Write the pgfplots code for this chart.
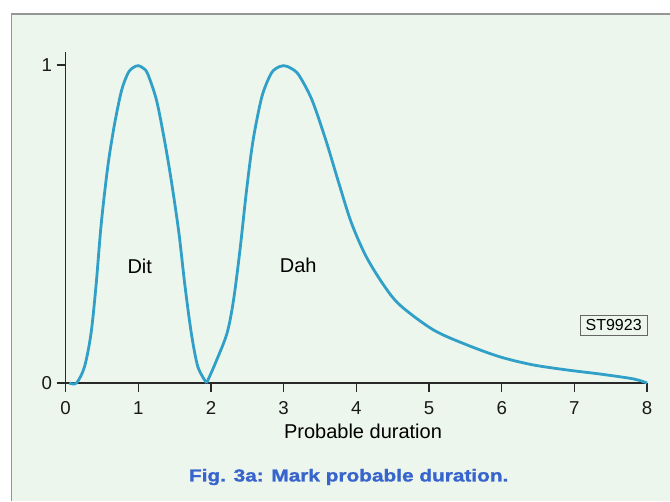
\documentclass[border=0pt]{standalone}
\usepackage{fontspec}
\setmainfont{Liberation Sans}
\newfontfamily\capfont[FakeBold=1.2]{Liberation Sans Bold}
\usepackage{graphicx}
\usepackage{pgfplots}
\pgfplotsset{compat=1.18}
\definecolor{bgc}{RGB}{237,246,236}
\definecolor{framec}{RGB}{150,150,150}
\definecolor{curvec}{RGB}{48,160,200}
\definecolor{capblue}{RGB}{55,100,205}
\definecolor{axc}{RGB}{40,40,40}
\begin{document}
\begin{tikzpicture}
\useasboundingbox (0,0) rectangle (502.5pt,375.75pt);
\fill[white] (0,0) rectangle (502.5pt,375.75pt);
\fill[bgc] (8.8pt,0) rectangle (502.5pt,365.25pt);
\draw[framec, line width=0.8pt] (8.8pt,0) -- (8.8pt,365.25pt) -- (502.5pt,365.25pt);
\begin{axis}[
  at={(49.2pt,88.5pt)}, anchor=south west,
  scale only axis,
  width=436.1pt, height=248.5pt,
  xmin=0, xmax=8, ymin=0, ymax=1.042,
  axis x line=bottom, axis y line=left,
  axis line style={-, axc, line width=1pt},
  xtick={0,1,2,3,4,5,6,7,8},
  ytick={0,1},
  tick align=outside,
  major tick length=6.75pt,
  tick style={axc, line width=0.9pt},
  /pgf/number format/assume math mode=true,
  ticklabel style={font=\fontsize{14}{16}\selectfont, text=black!90},
  xticklabel style={yshift=-3.5pt},
  clip=false,
]
\addplot[curvec, line width=2.1pt, smooth] coordinates {
(0.05,0) (0.15,0) (0.26,0.051) (0.35,0.156) (0.42,0.31) (0.49,0.5) (0.58,0.68) (0.67,0.81) (0.77,0.92) (0.86,0.975) (0.93,0.992) (1.0,0.998) (1.07,0.99) (1.13,0.972) (1.25,0.89) (1.36,0.764) (1.46,0.628) (1.56,0.47) (1.64,0.31) (1.73,0.156) (1.82,0.051) (1.94,0)
};
\addplot[curvec, line width=2.1pt, smooth] coordinates {
(1.94,0) (2.06,0.062) (2.22,0.156) (2.31,0.26) (2.40,0.42) (2.49,0.607) (2.58,0.764) (2.70,0.90) (2.82,0.97) (2.9,0.99) (3.0,0.998) (3.1,0.99) (3.21,0.968) (3.39,0.89) (3.58,0.764) (3.76,0.628) (3.93,0.505) (4.13,0.40) (4.37,0.31) (4.6,0.245) (5.06,0.167) (5.52,0.12) (5.98,0.082) (6.43,0.057) (6.9,0.041) (7.36,0.028) (7.81,0.013) (8.0,0.0)
};
\node[font=\fontsize{15}{17}\selectfont] at (axis cs:1.02,0.366) {Dit};
\node[font=\fontsize{15}{17}\selectfont] at (axis cs:3.2,0.371) {Dah};
\node[draw=black!60, line width=0.7pt, minimum width=50pt, minimum height=15pt, inner sep=0pt, font=\fontsize{12}{13}\selectfont] at (axis cs:7.54,0.182) {ST9923};
\end{axis}
\node[font=\fontsize{15}{17}\selectfont] at (272.25pt,52.5pt) {Probable duration};
\node[text=capblue, font=\capfont\fontsize{13}{15}\selectfont] at (261.5pt,18pt) {\scalebox{1.2}[1]{Fig. 3a: Mark probable duration.}};
\end{tikzpicture}
\end{document}
